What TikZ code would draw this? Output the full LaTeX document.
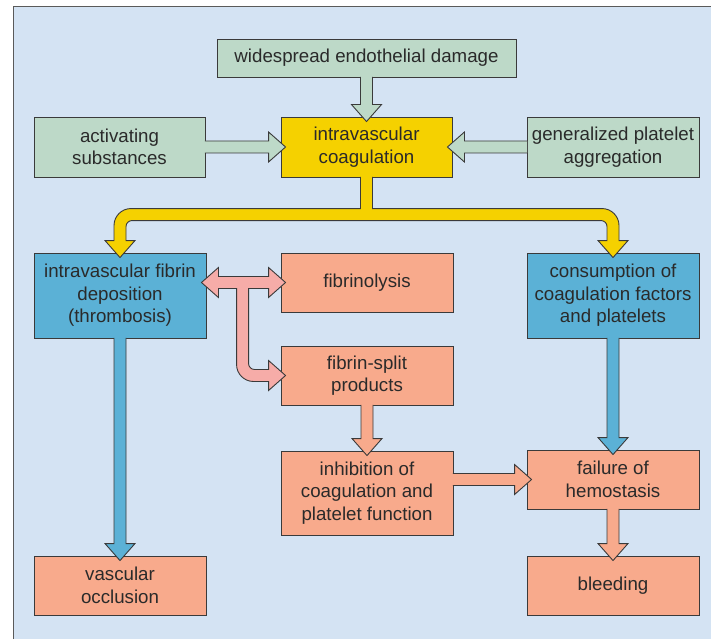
\documentclass[tikz,border=0pt]{standalone}
\usepackage{fontspec}
\setmainfont{Liberation Sans}
\usetikzlibrary{calc}

\definecolor{panelbg}{HTML}{D4E3F3}
\definecolor{framegray}{HTML}{5A5A5A}
\definecolor{edgegray}{HTML}{3A3A3A}
\definecolor{inkgray}{HTML}{2A2A2A}
\definecolor{sage}{HTML}{BDD9C8}
\definecolor{coagyellow}{HTML}{F5D100}
\definecolor{clotblue}{HTML}{5BB1D6}
\definecolor{salmon}{HTML}{F8AA8C}
\definecolor{lysispink}{HTML}{F6ACA8}

\tikzset{
  box/.style={draw=edgegray, line width=0.9pt, align=center, inner sep=0pt,
    text=inkgray, font=\fontsize{18.7}{22.5}\selectfont,
    minimum width=172pt, minimum height=59pt},
  greenbox/.style={box, fill=sage},
  yellowbox/.style={box, fill=coagyellow},
  bluebox/.style={box, fill=clotblue},
  salmonbox/.style={box, fill=salmon},
  blockedge/.style={draw=edgegray, line width=0.9pt, line join=miter},
}

% vertical block arrow from the bottom of #1 down into the top of #2
\newcommand\downblock[3]{%
  \path[blockedge, fill=#3] let \p1=(#1), \p2=(#2) in
    (\x2-6pt,\y1+0.5pt) -- (\x2-6pt,\y2+12pt) -- (\x2-15pt,\y2+12pt) --
    (\x2,\y2-5pt) -- (\x2+15pt,\y2+12pt) -- (\x2+6pt,\y2+12pt) --
    (\x2+6pt,\y1+0.5pt);}
% horizontal block arrow pointing right, at the height of #2
\newcommand\rightblock[3]{%
  \path[blockedge, fill=#3] let \p1=(#1), \p2=(#2) in
    (\x1-0.5pt,\y2+6pt) -- (\x2-12pt,\y2+6pt) -- (\x2-12pt,\y2+15pt) --
    (\x2+5pt,\y2) -- (\x2-12pt,\y2-15pt) -- (\x2-12pt,\y2-6pt) --
    (\x1-0.5pt,\y2-6pt);}
% horizontal block arrow pointing left, at the height of #2
\newcommand\leftblock[3]{%
  \path[blockedge, fill=#3] let \p1=(#1), \p2=(#2) in
    (\x1+0.5pt,\y2+6pt) -- (\x2+12pt,\y2+6pt) -- (\x2+12pt,\y2+15pt) --
    (\x2-5pt,\y2) -- (\x2+12pt,\y2-15pt) -- (\x2+12pt,\y2-6pt) --
    (\x1+0.5pt,\y2-6pt);}

\begin{document}
\begin{tikzpicture}[x=1pt,y=1pt]
\useasboundingbox (0,0) rectangle (711,-639);

% panel
\fill[white] (0,0) rectangle (711,-639);
\fill[panelbg] (13,-7) rectangle (711,-639);
\draw[framegray, line width=1pt] (13,-639) -- (13,-7) -- (711,-7);

% boxes
\node[greenbox, minimum width=299pt, minimum height=38pt] (dam) at (366.5,-58) {widespread endothelial damage};
\node[greenbox, minimum width=171pt, minimum height=60pt] (act) at (119.5,-147) {activating\\substances};
\node[yellowbox, minimum width=171pt, minimum height=60pt] (coag) at (366.5,-147) {intravascular\\coagulation};
\node[greenbox, minimum height=60pt] (gen) at (613,-147) {generalized platelet\\aggregation};

\node[bluebox, minimum height=85pt] (fib) at (120,-295.5) {intravascular fibrin\\deposition\\(thrombosis)};
\node[salmonbox] (fibl) at (367,-282.5) {fibrinolysis};
\node[salmonbox] (split) at (367,-375.5) {fibrin-split\\products};
\node[bluebox, minimum height=85pt] (cons) at (613,-295.5) {consumption of\\coagulation factors\\and platelets};

\node[salmonbox, minimum height=84pt] (inhib) at (367,-493) {inhibition of\\coagulation and\\platelet function};
\node[salmonbox] (fail) at (613,-479.5) {failure of\\hemostasis};
\node[salmonbox] (occl) at (120,-585.5) {vascular\\occlusion};
\node[salmonbox] (bleed) at (613,-585.5) {bleeding};

% triggers of coagulation
\downblock{dam.south}{coag.north}{sage}
\rightblock{act.east}{coag.west}{sage}
\leftblock{gen.west}{coag.east}{sage}

% split arrow from coagulation to both branches
\path[blockedge, fill=coagyellow] let \p1=(coag.south), \p2=(fib.north), \p3=(cons.north) in
  (\x1-6pt,\y1+0.5pt) -- (\x1-6pt,\y2+44pt) --
  (\x2-6pt+17pt,\y2+44pt) arc[start angle=90, end angle=180, radius=17pt] --
  (\x2-6pt,\y2+12pt) -- (\x2-15pt,\y2+12pt) -- (\x2,\y2-5pt) --
  (\x2+15pt,\y2+12pt) -- (\x2+6pt,\y2+12pt) --
  (\x2+6pt,\y2+26pt) arc[start angle=180, end angle=90, radius=6pt] --
  (\x3-12pt,\y3+32pt) arc[start angle=90, end angle=0, radius=6pt] --
  (\x3-6pt,\y3+12pt) -- (\x3-15pt,\y3+12pt) -- (\x3,\y3-5pt) --
  (\x3+15pt,\y3+12pt) -- (\x3+6pt,\y3+12pt) --
  (\x3+6pt,\y3+27pt) arc[start angle=0, end angle=90, radius=17pt] --
  (\x1+6pt,\y2+44pt) -- (\x1+6pt,\y1+0.5pt);

% fibrinolysis loop
\path[blockedge, fill=lysispink] let \p1=(fib.east), \p2=(fibl.west), \p3=(split.west) in
  (\x1-5pt,\y2) -- (\x1+12pt,\y2+15pt) -- (\x1+12pt,\y2+6pt) --
  (\x2-12pt,\y2+6pt) -- (\x2-12pt,\y2+15pt) -- (\x2+5pt,\y2) --
  (\x2-12pt,\y2-15pt) -- (\x2-12pt,\y2-6pt) -- (\x2-32pt,\y2-6pt) --
  (\x2-32pt,\y3+12pt) arc[start angle=180, end angle=270, radius=6pt] --
  (\x2-12pt,\y3+6pt) -- (\x2-12pt,\y3+15pt) -- (\x2+5pt,\y3) --
  (\x2-12pt,\y3-15pt) -- (\x2-12pt,\y3-6pt) --
  (\x2-27pt,\y3-6pt) arc[start angle=270, end angle=180, radius=17pt] --
  (\x2-44pt,\y2-6pt) -- (\x1+12pt,\y2-6pt) -- (\x1+12pt,\y2-15pt) -- cycle;

% consequences
\downblock{fib.south}{occl.north}{clotblue}
\downblock{cons.south}{fail.north}{clotblue}
\downblock{split.south}{inhib.north}{salmon}
\rightblock{inhib.east}{fail.west}{salmon}
\downblock{fail.south}{bleed.north}{salmon}
\end{tikzpicture}
\end{document}
